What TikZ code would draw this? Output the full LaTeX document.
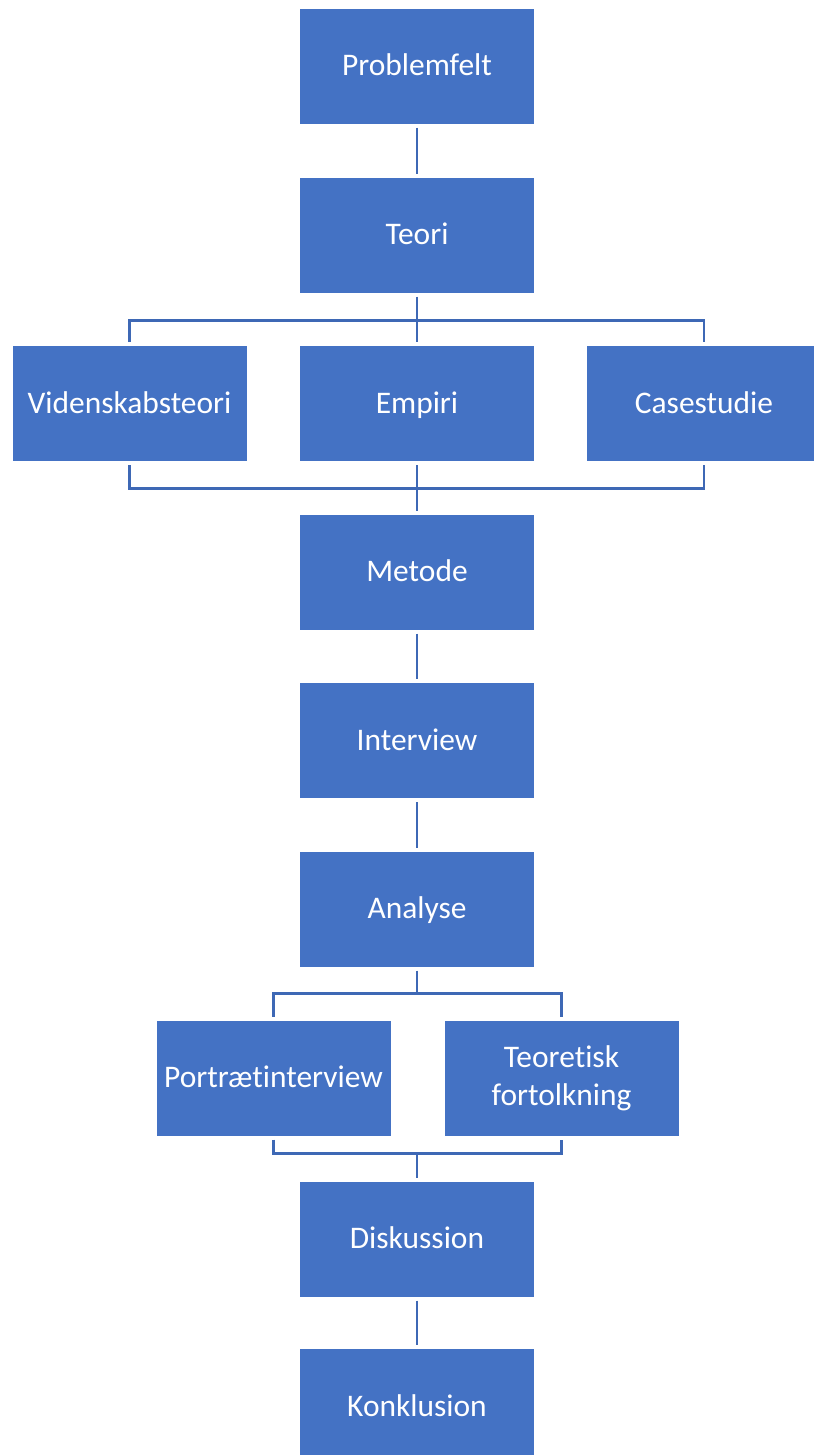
\documentclass[tikz,border=0pt]{standalone}
\usepackage{fontspec}
\setmainfont[Ligatures=NoCommon]{Carlito}
\definecolor{bleu}{HTML}{4472C4}
\definecolor{trait}{HTML}{3E68B5}
\begin{document}
\begin{tikzpicture}[x=0.02cm, y=-0.02cm]
\tikzset{boite/.style={draw=white, line width=0.3pt, fill=bleu, text=white, minimum width=4.7cm, minimum height=2.32cm, inner sep=0pt, outer sep=2pt, align=center, text height=15pt, text depth=3.7pt, font=\fontsize{17.9}{21.4}\selectfont}}
\tikzset{lien/.style={draw=trait, line width=1.7pt}}
\useasboundingbox (0, 0) rectangle (814, 1455);
\clip (0, 0) rectangle (814, 1455);
\node[boite] (P) at (417, 66) {Problemfelt};
\node[boite] (T) at (417, 235) {Teori};
\node[boite] (V) at (129.5, 403.5) {Videnskabsteori};
\node[boite] (E) at (417, 403.5) {Empiri};
\node[boite] (C) at (704, 403.5) {Casestudie};
\node[boite] (M) at (417, 572) {Metode};
\node[boite] (I) at (417, 740.5) {Interview};
\node[boite] (A) at (417, 909) {Analyse};
\node[boite] (PI) at (273.5, 1078) {Portrætinterview};
\node[boite, text height=, text depth=] (TF) at (561.5, 1078) {Teoretisk\\fortolkning};
\node[boite] (D) at (417, 1239) {Diskussion};
\node[boite] (K) at (417, 1406.5) {Konklusion};
\coordinate (B1) at (417, 320);
\coordinate (B2) at (417, 488);
\coordinate (B3) at (417, 993);
\coordinate (B4) at (417, 1153);
\draw[lien] (P.south) -- (T.north);
\draw[lien] (T.south) -- (E.north);
\draw[lien] (V.north) |- (B1) -| (C.north);
\draw[lien] (V.south) |- (B2) -| (C.south);
\draw[lien] (E.south) -- (M.north);
\draw[lien] (M.south) -- (I.north);
\draw[lien] (I.south) -- (A.north);
\draw[lien] (A.south) -- (B3);
\draw[lien] (PI.north) |- (B3) -| (TF.north);
\draw[lien] (PI.south) |- (B4) -| (TF.south);
\draw[lien] (B4) -- (D.north);
\draw[lien] (D.south) -- (K.north);
\end{tikzpicture}
\end{document}
